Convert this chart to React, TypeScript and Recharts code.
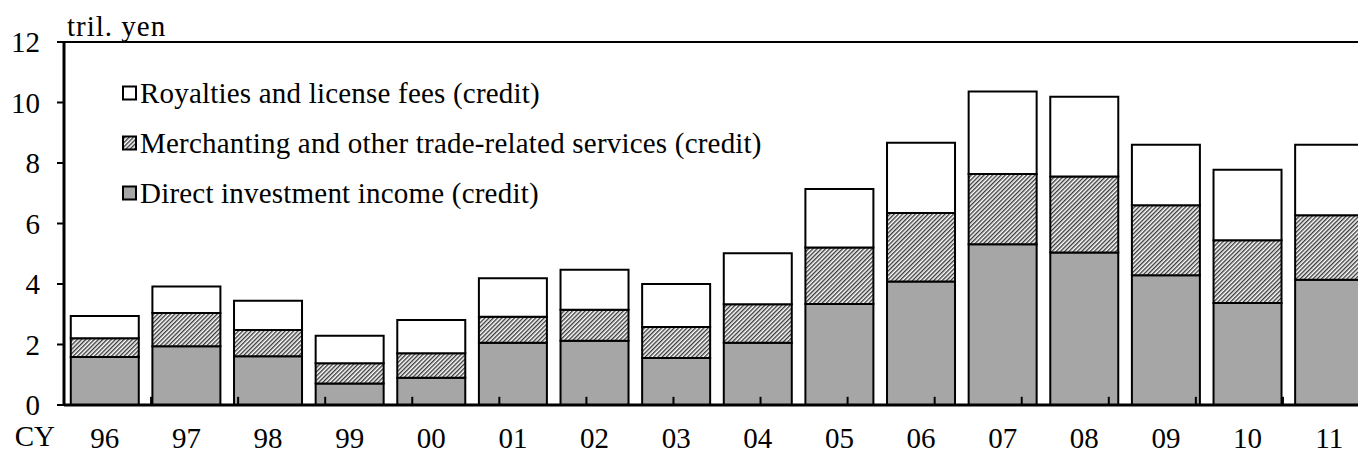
import React from "react";
import {
  BarChart,
  Bar,
  XAxis,
  YAxis,
  ReferenceLine,
} from "recharts";

const years = ["96", "97", "98", "99", "00", "01", "02", "03", "04", "05", "06", "07", "08", "09", "10", "11"];
const directInvestment = [1.59, 1.94, 1.61, 0.71, 0.9, 2.06, 2.12, 1.55, 2.06, 3.34, 4.08, 5.31, 5.04, 4.29, 3.37, 4.14];
const merchanting = [0.62, 1.1, 0.87, 0.67, 0.81, 0.86, 1.03, 1.03, 1.27, 1.87, 2.27, 2.33, 2.51, 2.31, 2.08, 2.13];
const royalties = [0.73, 0.88, 0.97, 0.91, 1.1, 1.27, 1.32, 1.42, 1.69, 1.93, 2.32, 2.72, 2.64, 2.0, 2.33, 2.33];
const yTicks = [0, 2, 4, 6, 8, 10, 12];
const boundaries = [1, 2, 3, 4, 5, 6, 7, 8, 9, 10, 11, 12, 13, 14, 15];

const seriesNames = {
  direct: "Direct investment income (credit)",
  merch: "Merchanting and other trade-related services (credit)",
  roy: "Royalties and license fees (credit)",
};

const data = years.map((y, i) => ({
  year: y,
  direct: directInvestment[i],
  merch: merchanting[i],
  roy: royalties[i],
}));

const FONT = '"Liberation Serif", "Times New Roman", serif';
const FS = 29;
const GRAY = "#a6a6a6";

function Swatch({ fill }: { fill: string }) {
  return (
    <svg width={18} height={16} style={{ display: "block" }}>
      <rect x={1} y={1.5} width={13} height={13} fill={fill} stroke="#000" strokeWidth={2} />
    </svg>
  );
}

function LegendBox() {
  const items = [
    { name: seriesNames.roy, fill: "#fff" },
    { name: seriesNames.merch, fill: "url(#hatch)" },
    { name: seriesNames.direct, fill: GRAY },
  ];
  return (
    <div
      style={{
        position: "absolute",
        left: 122,
        top: 68,
        fontFamily: FONT,
        fontSize: FS,
        color: "#000",
        letterSpacing: 0.2,
      }}
    >
      {items.map((it) => (
        <div key={it.name} style={{ display: "flex", alignItems: "center", height: 50 }}>
          <Swatch fill={it.fill} />
          <span style={{ whiteSpace: "nowrap" }}>{it.name}</span>
        </div>
      ))}
    </div>
  );
}

export default function App() {
  return (
    <div
      style={{
        position: "fixed",
        left: 0,
        top: 0,
        width: 1358,
        height: 453,
        overflow: "hidden",
        background: "#fff",
      }}
    >
      <BarChart
        width={1380}
        height={453}
        data={data}
        margin={{ top: 42, right: 10, left: 0, bottom: 0 }}
        barCategoryGap="8.3%"
      >
        <defs>
          <pattern
            id="hatch"
            patternUnits="userSpaceOnUse"
            width={3}
            height={3}
            patternTransform="rotate(45)"
          >
            <rect width={3} height={3} fill="#fff" />
            <line x1={0.7} y1={0} x2={0.7} y2={3} stroke="#3a3a3a" strokeWidth={1.4} />
          </pattern>
        </defs>
        <XAxis
          dataKey="year"
          height={48}
          axisLine={{ stroke: "#000", strokeWidth: 3 }}
          tickLine={false}
          tickSize={0}
          tick={({ x, y, payload }: any) => (
            <text
              x={x}
              y={y + 41}
              textAnchor="middle"
              fontFamily={FONT}
              fontSize={FS}
              fill="#000"
            >
              {payload.value}
            </text>
          )}
          label={{
            content: ({ viewBox }: any) => (
              <text
                x={viewBox.x - 9}
                y={viewBox.y + 41}
                textAnchor="end"
                fontFamily={FONT}
                fontSize={FS}
                fill="#000"
              >
                CY
              </text>
            ),
          }}
        />
        <XAxis xAxisId="b" type="number" domain={[0, 16]} hide allowDataOverflow />
        <YAxis
          width={64}
          domain={[0, 12]}
          ticks={yTicks}
          interval={0}
          allowDataOverflow
          axisLine={{ stroke: "#000", strokeWidth: 3 }}
          tickLine={{ stroke: "#000", strokeWidth: 2 }}
          tickSize={7}
          tickMargin={17}
          tick={{ fontFamily: FONT, fontSize: FS, fill: "#000" }}
          label={{
            content: ({ viewBox }: any) => (
              <text
                x={viewBox.x + viewBox.width + 3}
                y={viewBox.y - 6}
                fontFamily={FONT}
                fontSize={FS}
                letterSpacing={1}
                fill="#000"
              >
                tril. yen
              </text>
            ),
          }}
        />
        <ReferenceLine y={12} stroke="#000" strokeWidth={2} />
        {boundaries.map((b) => (
          <ReferenceLine
            key={b}
            xAxisId="b"
            segment={[
              { x: b, y: 0 },
              { x: b, y: 0.27 },
            ]}
            stroke="#000"
            strokeWidth={2}
          />
        ))}
        <Bar dataKey="direct" name={seriesNames.direct} stackId="a" fill={GRAY} stroke="#000" strokeWidth={2} isAnimationActive={false} />
        <Bar dataKey="merch" name={seriesNames.merch} stackId="a" fill="url(#hatch)" stroke="#000" strokeWidth={2} isAnimationActive={false} />
        <Bar dataKey="roy" name={seriesNames.roy} stackId="a" fill="#fff" stroke="#000" strokeWidth={2} isAnimationActive={false} />
      </BarChart>
      <LegendBox />
    </div>
  );
}
